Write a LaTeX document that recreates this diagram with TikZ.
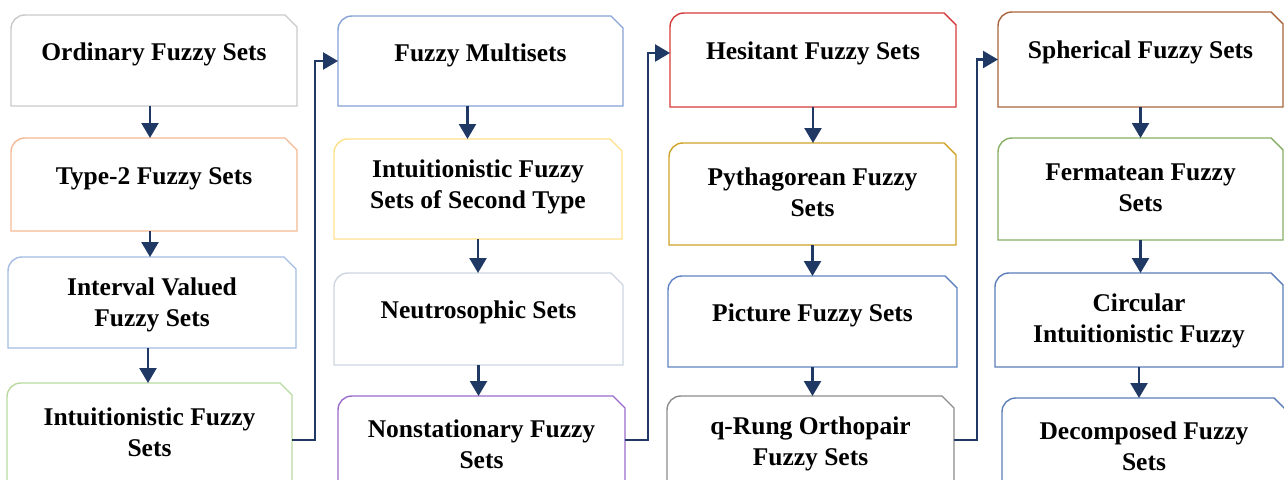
\documentclass[tikz,border=0pt]{standalone}
\usepackage{fontspec}
\setmainfont{Liberation Serif}
\usetikzlibrary{arrows.meta,positioning,calc}

\definecolor{flowblue}{HTML}{203864}
\definecolor{ordline}{HTML}{C9C9C9}
\definecolor{tiiline}{HTML}{F5B895}
\definecolor{ivfline}{HTML}{A4BCE4}
\definecolor{ifsline}{HTML}{B7DA9F}
\definecolor{fmsline}{HTML}{86A2D6}
\definecolor{ifstline}{HTML}{FFE08A}
\definecolor{neuline}{HTML}{CDD5E0}
\definecolor{nsfline}{HTML}{9A6BCB}
\definecolor{hfsline}{HTML}{D53A3A}
\definecolor{pyfline}{HTML}{CFA228}
\definecolor{picline}{HTML}{5F83C2}
\definecolor{qroline}{HTML}{8C8C8C}
\definecolor{sphline}{HTML}{A8653A}
\definecolor{ferline}{HTML}{85AE62}
\definecolor{cirline}{HTML}{5B7DB8}

\begin{document}
\begin{tikzpicture}[x=1pt, y=-1pt,
  setbox/.style={anchor=north west, inner sep=0pt, outer sep=0pt,
    minimum width=286pt, minimum height=92pt,
    append after command={\pgfextra{\edef\boxnode{\tikzlastnode}
      \draw[draw=#1, line width=1.4pt] (\boxnode.south west) -- ([yshift=-14pt]\boxnode.north west)
        .. controls ([yshift=-6pt]\boxnode.north west) and ([xshift=6pt]\boxnode.north west)
        .. ([xshift=14pt]\boxnode.north west)
        -- ([xshift=-12pt]\boxnode.north east)
        -- ([yshift=-12pt]\boxnode.north east) -- (\boxnode.south east) -- cycle;}}},
  settext/.style={font=\fontsize{25.5}{31}\selectfont\bfseries, align=center, inner sep=0pt},
  flow/.style={draw=flowblue, line width=2.4pt, -{Triangle[width=17pt,length=15pt]}}]

  \useasboundingbox (0,0) rectangle (1284,479);
  \clip (0,0) rectangle (1284,479);

  % first column
  \node[setbox=ordline, minimum height=91pt] (ord) at (11,15) {};
  \node[settext] (ordtxt) at ([yshift=-39pt]ord.north) {Ordinary Fuzzy Sets};
  \node[setbox=tiiline, minimum height=93pt] (tii) at (11,138) {};
  \node[settext] (tiitxt) at ([yshift=-41pt]tii.north) {Type-2 Fuzzy Sets};
  \node[setbox=ivfline, minimum width=288pt, minimum height=91pt] (ivf) at (8,257) {};
  \node[settext] (ivftxt) at ([yshift=-48pt]ivf.north) {Interval Valued\\Fuzzy Sets};
  \node[setbox=ifsline, minimum width=285pt, minimum height=114pt] (ifs) at (7,383) {};
  \node[settext] (ifstxt) at ([yshift=-49pt]ifs.north) {Intuitionistic Fuzzy\\Sets};

  % second column
  \node[setbox=fmsline, minimum width=285pt, minimum height=90pt] (fms) at (338,16) {};
  \node[settext] (fmstxt) at ([yshift=-39pt]fms.north) {Fuzzy Multisets};
  \node[setbox=ifstline, minimum width=288pt, minimum height=100pt] (ifst) at (334,139) {};
  \node[settext] (ifsttxt) at ([yshift=-48pt]ifst.north) {Intuitionistic Fuzzy\\Sets of Second Type};
  \node[setbox=neuline, minimum width=289pt] (neu) at (334,273) {};
  \node[settext] (neutxt) at ([yshift=-39pt]neu.north) {Neutrosophic Sets};
  \node[setbox=nsfline, minimum width=287pt, minimum height=88pt] (nsf) at (338,396) {};
  \node[settext] (nsftxt) at ([yshift=-48pt]nsf.north) {Nonstationary Fuzzy\\Sets};

  % third column
  \node[setbox=hfsline, minimum height=94pt] (hfs) at (670,13) {};
  \node[settext] (hfstxt) at ([yshift=-40pt]hfs.north) {Hesitant Fuzzy Sets};
  \node[setbox=pyfline, minimum width=287pt, minimum height=102pt] (pyf) at (669,143) {};
  \node[settext] (pyftxt) at ([yshift=-49pt]pyf.north) {Pythagorean Fuzzy\\Sets};
  \node[setbox=picline, minimum width=289pt, minimum height=91pt] (pic) at (668,276) {};
  \node[settext] (pictxt) at ([yshift=-39pt]pic.north) {Picture Fuzzy Sets};
  \node[setbox=qroline, minimum width=287pt, minimum height=88pt] (qro) at (667,396) {};
  \node[settext] (qrotxt) at ([yshift=-48pt]qro.north) {q-Rung Orthopair\\Fuzzy Sets};

  % fourth column
  \node[setbox=sphline, minimum width=285pt, minimum height=95pt] (sph) at (998,12) {};
  \node[settext] (sphtxt) at ([yshift=-40pt]sph.north) {Spherical Fuzzy Sets};
  \node[setbox=ferline, minimum width=285pt, minimum height=102pt] (fer) at (998,138) {};
  \node[settext] (fertxt) at ([yshift=-50pt]fer.north) {Fermatean Fuzzy\\Sets};
  \node[setbox=cirline, minimum width=288pt, minimum height=94pt] (cir) at (995,273) {};
  \node[settext] (cirtxt) at ([yshift=-48pt]cir.north) {Circular\\Intuitionistic Fuzzy};
  \node[setbox=cirline, minimum width=284pt, minimum height=100pt] (dec) at (1002,398) {};
  \node[settext] (dectxt) at ([yshift=-48pt]dec.north) {Decomposed Fuzzy\\Sets};

  % arrows inside the columns
  \foreach \a/\b in {ord/tii, tii/ivf, ivf/ifs}
    \draw[flow] ([xshift=-4pt]\a.south) -- ([xshift=-4pt]\a.south |- \b.north);
  \foreach \a/\b in {ifst/neu, neu/nsf, hfs/pyf, pyf/pic, pic/qro, sph/fer, fer/cir, cir/dec}
    \draw[flow] (\a.south) -- (\a.south |- \b.north);
  \draw[flow] ([xshift=-13pt]fms.south) -- ([xshift=-13pt]fms.south |- ifst.north);

  % arrows between the columns
  \draw[flow] (ifs.east) -- ++(23,0) |- (fms.west);
  \draw[flow] (nsf.east) -- ++(23,0) |- ([yshift=7pt]hfs.west);
  \draw[flow] (qro.east) -- ++(23,0) |- (sph.west);
\end{tikzpicture}
\end{document}
